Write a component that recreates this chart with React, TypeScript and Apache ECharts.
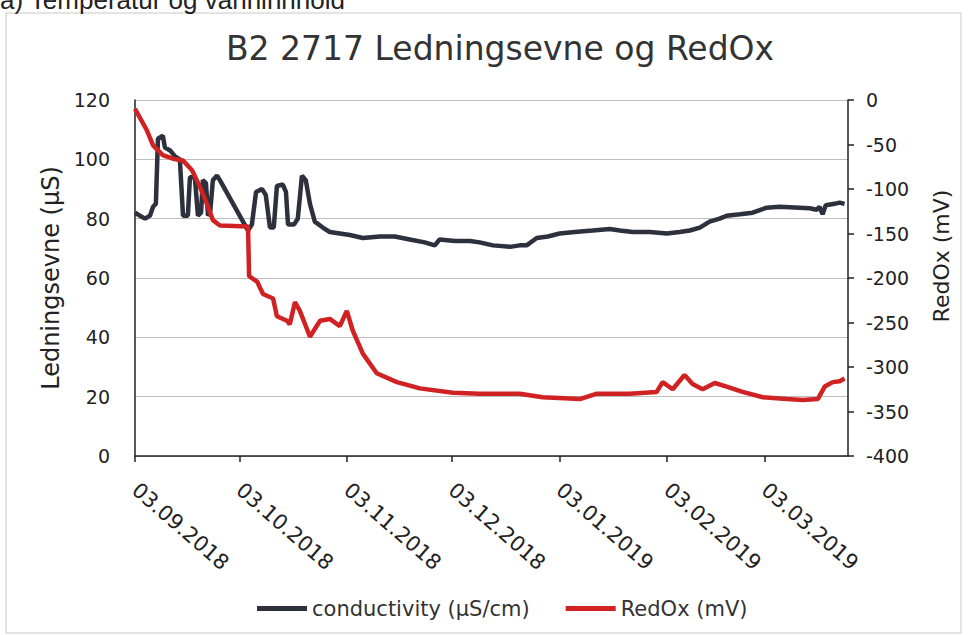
import React, { useEffect, useRef } from "react";
import * as echarts from "echarts";

const TITLE = "B2 2717 Ledningsevne og RedOx";
const START_DATE = "2018-09-03";
const END_DATE = "2019-03-27";
const TICK_DATES = [
  "2018-09-03",
  "2018-10-03",
  "2018-11-03",
  "2018-12-03",
  "2019-01-03",
  "2019-02-03",
  "2019-03-03",
];

// days after 03.09.2018 and conductivity (µS/cm)
const condDays = [
  0, 1.4, 2.9, 4.3, 5.2, 6.0, 6.6, 8.0, 8.6, 10.1, 11.5, 12.9, 13.8, 15.2, 15.8, 17.2,
  18.1, 19.0, 19.5, 20.4, 21.0, 21.6, 22.4, 23.6, 24.4, 32.5, 33.6, 34.8, 36.5, 37.6,
  38.8, 39.9, 40.8, 42.5, 43.4, 44.0, 45.7, 46.8, 48.0, 49.1, 50.3, 51.7, 54.0, 56.0,
  58.9, 61.8, 65.5, 70.4, 74.7, 79.0, 83.3, 86.2, 87.6, 92.0, 96.3, 99.1, 102.9, 107.8,
  110.6, 112.6, 115.5, 118.7, 122.1, 126.4, 131.6, 136.5, 139.4, 143.1, 148.0, 152.9,
  156.6, 159.5, 162.4, 165.2, 168.1, 170.1, 173.9, 177.6, 181.6, 185.3, 191.1, 194.0,
  196.0, 196.8, 197.7, 198.6, 201.1, 202.6, 204.0,
];
const condValues = [
  82, 81, 80, 81, 84, 85, 107, 108, 104, 103, 101, 100, 81, 81, 94, 94,
  81, 82, 93, 92, 81, 82, 93, 94.5, 93, 76, 78, 89, 90, 88,
  77, 77, 91, 91.5, 89, 78, 78, 80, 94.5, 93, 85, 79, 77, 75.5,
  75, 74.5, 73.5, 74, 74, 73, 72, 71, 73, 72.5, 72.5, 72, 71, 70.5,
  71, 71, 73.5, 74, 75, 75.5, 76, 76.5, 76, 75.5, 75.5, 75,
  75.5, 76, 77, 79, 80, 81, 81.5, 82, 83.7, 84, 83.7, 83.5,
  83, 84, 81.5, 84.5, 85, 85.4, 85,
];

// days after 03.09.2018 and RedOx (mV)
const redoxDays = [
  0, 3.4, 5.2, 8.0, 10.9, 13.8, 16.4, 18.7, 20.7, 22.4, 24.4, 32.5, 32.8, 35.1, 36.8,
  39.7, 40.8, 43.7, 44.5, 46.0, 47.4, 50.3, 53.2, 56.0, 58.9, 60.9, 62.6, 65.5, 69.5,
  75.3, 81.9, 91.4, 99.1, 110.6, 117.2, 127.9, 132.8, 142.2, 150.0, 151.7, 154.6,
  158.0, 160.3, 163.2, 166.7, 170.1, 174.7, 180.5, 187.4, 192.0, 196.3, 198.3, 200.6,
  202.6, 204.0,
];
const redoxValues = [
  -10, -34, -51, -62, -66, -68, -79, -98, -117, -135, -141, -142, -198, -204, -218,
  -223, -243, -248, -252, -227, -237, -266, -248, -246, -254, -237, -259, -285, -307,
  -317, -324, -329, -330, -330, -334, -336, -330, -330, -328, -317, -325,
  -309, -319, -325, -318, -322, -328, -334, -336, -337, -336, -322, -317,
  -316, -313,
];

const DAY_MS = 86400000;
const startTs = Date.parse(START_DATE);
const toTs = (d: number) => startTs + d * DAY_MS;
const fmtDate = (v: number) => {
  const d = new Date(v);
  const dd = String(d.getUTCDate()).padStart(2, "0");
  const mm = String(d.getUTCMonth() + 1).padStart(2, "0");
  return `${dd}.${mm}.${d.getUTCFullYear()}`;
};

const FONT = "DejaVu Sans";

export default function App() {
  const ref = useRef<HTMLDivElement>(null);
  useEffect(() => {
    if (!ref.current) return;
    const chart = echarts.init(ref.current, null, { renderer: "svg" });
    const tickTs = TICK_DATES.map((s) => Date.parse(s));
    chart.setOption({
      animation: false,
      backgroundColor: "#ffffff",
      title: {
        text: TITLE,
        left: 495,
        textAlign: "center",
        top: 27,
        textStyle: { fontFamily: FONT, fontSize: 33, fontWeight: "normal", color: "#333333" },
      },
      graphic: [
        {
          type: "rect",
          shape: { x: 6, y: 13, width: 955, height: 620 },
          style: { fill: "none", stroke: "#c8c8c8", lineWidth: 1 },
          silent: true,
        },
        {
          type: "text",
          left: 0,
          top: -13,
          style: {
            text: "a) Temperatur og vanninnhold",
            fontFamily: "Liberation Sans",
            fontSize: 26,
            fill: "#222222",
          },
        },
      ],
      legend: {
        left: 252,
        top: 593,
        itemWidth: 50,
        itemHeight: 5,
        itemGap: 36,
        icon: "rect",
        textStyle: { fontFamily: FONT, fontSize: 21, color: "#333333" },
        data: ["conductivity (µS/cm)", "RedOx (mV)"],
      },
      grid: { left: 135, right: 121, top: 100, bottom: 179, containLabel: false },
      xAxis: {
        type: "value",
        min: startTs,
        max: Date.parse(END_DATE),
        splitLine: { show: false },
        axisLine: { show: true, onZero: false, lineStyle: { color: "#222222", width: 1.5 } },
        axisTick: {
          show: true,
          customValues: tickTs,
          length: 6,
          lineStyle: { color: "#222222", width: 1.5 },
        },
        axisLabel: {
          customValues: tickTs,
          rotate: -41,
          margin: 31,
          formatter: (v: number) => fmtDate(v),
          fontFamily: FONT,
          fontSize: 21,
          color: "#222222",
        },
      },
      yAxis: [
        {
          type: "value",
          min: 0,
          max: 120,
          interval: 20,
          position: "left",
          name: "Ledningsevne (µS)",
          nameLocation: "middle",
          nameGap: 62,
          nameTextStyle: { fontFamily: FONT, fontSize: 24, color: "#222222" },
          axisLine: { show: true, lineStyle: { color: "#222222", width: 1.5 } },
          axisTick: { show: false },
          axisLabel: { margin: 25, fontFamily: FONT, fontSize: 19, color: "#222222" },
          splitLine: { show: true, lineStyle: { color: "#bdbdbd", width: 1 } },
        },
        {
          type: "value",
          min: -400,
          max: 0,
          interval: 50,
          position: "right",
          name: "RedOx (mV)",
          nameLocation: "middle",
          nameGap: 82,
          nameTextStyle: {
            fontFamily: FONT,
            fontSize: 22,
            color: "#222222",
            padding: [0, 0, 0, 44],
          },
          axisLine: { show: true, lineStyle: { color: "#222222", width: 1.5 } },
          axisTick: { show: true, inside: false, length: 6, lineStyle: { color: "#222222", width: 1.5 } },
          axisLabel: { margin: 18, fontFamily: FONT, fontSize: 19, color: "#222222" },
          splitLine: { show: false },
        },
      ],
      series: [
        {
          name: "conductivity (µS/cm)",
          type: "line",
          yAxisIndex: 0,
          showSymbol: false,
          symbol: "none",
          color: "#2d303d",
          lineStyle: { color: "#2d303d", width: 4.5 },
          data: condDays.map((d, i) => [toTs(d), condValues[i]]),
        },
        {
          name: "RedOx (mV)",
          type: "line",
          yAxisIndex: 1,
          showSymbol: false,
          symbol: "none",
          color: "#d02222",
          lineStyle: { color: "#d02222", width: 4.5 },
          data: redoxDays.map((d, i) => [toTs(d), redoxValues[i]]),
        },
      ],
    });
    return () => chart.dispose();
  }, []);
  return (
    <div
      ref={ref}
      style={{ position: "fixed", left: 0, top: 0, width: 969, height: 635 }}
    />
  );
}
